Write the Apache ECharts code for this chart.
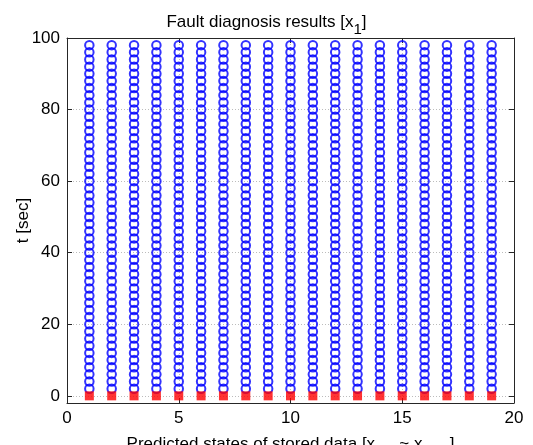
<!DOCTYPE html>
<html>
<head>
<meta charset="utf-8">
<script src="https://cdn.jsdelivr.net/npm/echarts@6/dist/echarts.min.js"></script>
<style>html,body{margin:0;padding:0;background:#fff;}#c{width:533px;height:445px;}</style>
</head>
<body>
<div id="c"></div>
<script>
// Stored-data state indices (x axis)
var states = [1, 2, 3, 4, 5, 6, 7, 8, 9, 10, 11, 12, 13, 14, 15, 16, 17, 18, 19];
// Times (sec) at which each stored state is predicted (blue circles)
var predictedTimes = [2, 4, 6, 8, 10, 12, 14, 16, 18, 20, 22, 24, 26, 28, 30, 32, 34, 36, 38, 40,
  42, 44, 46, 48, 50, 52, 54, 56, 58, 60, 62, 64, 66, 68, 70, 72, 74, 76, 78, 80,
  82, 84, 86, 88, 90, 92, 94, 96, 98];
// Fault diagnosis time (sec) for each state (red squares)
var diagnosisTimes = [0, 0, 0, 0, 0, 0, 0, 0, 0, 0, 0, 0, 0, 0, 0, 0, 0, 0, 0];
// Tick labels
var xTicks = [0, 5, 10, 15, 20];
var yTicks = [0, 20, 40, 60, 80, 100];

var circleData = [];
states.forEach(function (s) {
  predictedTimes.forEach(function (t) { circleData.push([s, t]); });
});
var squareData = states.map(function (s, i) { return [s, diagnosisTimes[i]]; });

var font = 'Liberation Sans, Arial, sans-serif';
var axisCol = '#262626';
var fs = 17;
var gridLine = { show: true, lineStyle: { color: '#bcbcbc', type: [1, 2], width: 1 } };

var chart = echarts.init(document.getElementById('c'), null, { renderer: 'canvas' });
chart.setOption({
  animation: false,
  backgroundColor: '#fff',
  title: {
    text: 'Fault diagnosis results [x{sub|1}]',
    left: 'center',
    top: 3,
    textStyle: {
      fontFamily: font, fontSize: fs, fontWeight: 'normal', color: '#000',
      rich: { sub: { fontFamily: font, fontSize: 15, color: '#000', padding: [14, 0, 0, 0] } }
    }
  },
  grid: { left: 67, right: 19, top: 38, bottom: 42, containLabel: false, outerBoundsMode: 'none' },
  xAxis: [{
    type: 'value', min: 0, max: 20, interval: 5,
    position: 'bottom',
    axisLine: { show: true, onZero: false, lineStyle: { color: axisCol, width: 1 } },
    axisTick: { show: true, inside: true, length: 5, lineStyle: { color: axisCol } },
    axisLabel: { fontFamily: font, fontSize: fs, color: '#000', margin: 7,
      formatter: function (v) { return xTicks.indexOf(v) >= 0 ? String(v) : ''; } },
    splitLine: gridLine,
    name: 'Predicted states of stored data [x{sub|k-1} ~ x{sub|k-19}]',
    nameLocation: 'middle', nameGap: 24, nameMoveOverlap: false,
    nameTextStyle: { fontFamily: font, fontSize: fs, color: '#000', verticalAlign: 'top',
      rich: { sub: { fontFamily: font, fontSize: 14, color: '#000', padding: [21, 0, 0, 0] } } }
  }, {
    type: 'value', min: 0, max: 20, interval: 5, position: 'top',
    axisLine: { show: true, onZero: false, lineStyle: { color: axisCol, width: 1 } },
    axisTick: { show: true, inside: true, length: 5, lineStyle: { color: axisCol } },
    axisLabel: { show: false }, splitLine: { show: false }
  }],
  yAxis: [{
    type: 'value', min: -2, max: 100,
    position: 'left',
    axisLine: { show: true, onZero: false, lineStyle: { color: axisCol, width: 1 } },
    axisTick: { show: true, inside: true, length: 5, lineStyle: { color: axisCol }, customValues: yTicks },
    axisLabel: { fontFamily: font, fontSize: fs, color: '#000', margin: 7, customValues: yTicks },
    splitLine: gridLine,
    name: 't [sec]', nameLocation: 'middle', nameGap: 35, nameMoveOverlap: false,
    nameTextStyle: { fontFamily: font, fontSize: fs, color: '#000' }
  }, {
    type: 'value', min: -2, max: 100, position: 'right',
    axisLine: { show: true, onZero: false, lineStyle: { color: axisCol, width: 1 } },
    axisTick: { show: true, inside: true, length: 5, lineStyle: { color: axisCol }, customValues: yTicks },
    axisLabel: { show: false }, splitLine: { show: false }
  }],
  series: [{
    type: 'scatter', xAxisIndex: 0, yAxisIndex: 0,
    data: circleData,
    symbol: 'circle', symbolSize: 8.5,
    itemStyle: { color: 'rgba(0,0,0,0)', borderColor: '#0000ff', borderWidth: 2 },
    emphasis: { disabled: true }
  }, {
    type: 'scatter', xAxisIndex: 0, yAxisIndex: 0,
    data: squareData,
    symbol: 'rect', symbolSize: 9,
    itemStyle: { color: '#ff0000' },
    emphasis: { disabled: true }
  }]
});
</script>
</body>
</html>
